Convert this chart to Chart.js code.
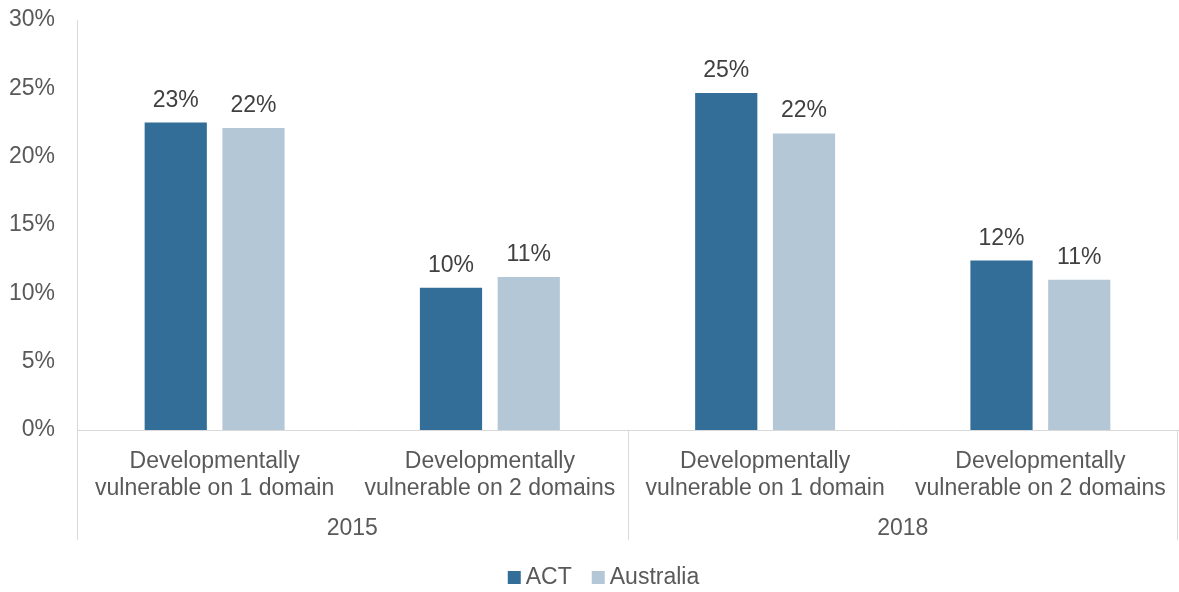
<!DOCTYPE html>
<html>
<head>
<meta charset="utf-8">
<script src="https://cdn.jsdelivr.net/npm/chart.js@4.4.1/dist/chart.umd.min.js"></script>
<style>
  html, body { margin: 0; padding: 0; background: #fff; }
  #wrap { width: 1179px; height: 592px; }
</style>
</head>
<body>
<div id="wrap"><canvas id="chart" width="1179" height="592"></canvas></div>
<script>
const categories = [
  ['Developmentally', 'vulnerable on 1 domain'],
  ['Developmentally', 'vulnerable on 2 domains'],
  ['Developmentally', 'vulnerable on 1 domain'],
  ['Developmentally', 'vulnerable on 2 domains']
];
const years = ['2015', '2018'];
const actValues = [22.5, 10.4, 24.65, 12.4];
const australiaValues = [22.1, 11.2, 21.7, 11.0];
const yTicks = [0, 5, 10, 15, 20, 25, 30];

const FONT = 'Liberation Sans, Arial, sans-serif';
const FSIZE = 23;
const lineColor = '#d9d9d9';
const textColor = '#595959';

// labels above bars
const valueLabels = {
  id: 'valueLabels',
  afterDatasetsDraw(chart) {
    const ctx = chart.ctx;
    ctx.save();
    ctx.font = FSIZE + 'px ' + FONT;
    ctx.fillStyle = '#404040';
    ctx.textAlign = 'center';
    ctx.textBaseline = 'alphabetic';
    chart.data.datasets.forEach((ds, i) => {
      chart.getDatasetMeta(i).data.forEach((bar, j) => {
        ctx.fillText(Math.round(ds.data[j]) + '%', bar.x, bar.y - 16);
      });
    });
    ctx.restore();
  }
};

// year group labels and separators under the x axis
const groupAxis = {
  id: 'groupAxis',
  afterDraw(chart) {
    const ctx = chart.ctx;
    const area = chart.chartArea;
    const x = chart.scales.x;
    const bottom = area.bottom + 110;
    const mid = (x.getPixelForValue(1) + x.getPixelForValue(2)) / 2;
    ctx.save();
    ctx.strokeStyle = lineColor;
    ctx.lineWidth = 1;
    [area.left + 0.5, Math.round(mid) + 0.5, area.right - 0.5].forEach(px => {
      ctx.beginPath();
      ctx.moveTo(px, area.bottom);
      ctx.lineTo(px, bottom);
      ctx.stroke();
    });
    ctx.font = FSIZE + 'px ' + FONT;
    ctx.fillStyle = textColor;
    ctx.textAlign = 'center';
    ctx.textBaseline = 'middle';
    ctx.fillText(years[0], (area.left + mid) / 2, area.bottom + 99);
    ctx.fillText(years[1], (mid + area.right) / 2, area.bottom + 99);
    ctx.restore();
  }
};

// legend row at the bottom, built from the datasets
const bottomLegend = {
  id: 'bottomLegend',
  afterDraw(chart) {
    const ctx = chart.ctx;
    const box = 13, gap = 5, itemGap = 20, y = 578;
    ctx.save();
    ctx.font = FSIZE + 'px ' + FONT;
    ctx.textBaseline = 'middle';
    ctx.textAlign = 'left';
    const items = chart.data.datasets.map(ds => ({
      text: ds.label, color: ds.backgroundColor, w: ctx.measureText(ds.label).width
    }));
    let total = items.reduce((s, it) => s + box + gap + it.w, 0) + itemGap * (items.length - 1);
    let x = chart.width / 2 + 14 - total / 2;
    items.forEach(it => {
      ctx.fillStyle = it.color;
      ctx.fillRect(x, y - 7, box, box);
      ctx.fillStyle = textColor;
      ctx.fillText(it.text, x + box + gap, y);
      x += box + gap + it.w + itemGap;
    });
    ctx.restore();
  }
};

new Chart(document.getElementById('chart'), {
  type: 'bar',
  data: {
    labels: categories,
    datasets: [{
      label: 'ACT',
      data: actValues,
      backgroundColor: '#336e99',
      categoryPercentage: 0.565,
      barPercentage: 0.8
    }, {
      label: 'Australia',
      data: australiaValues,
      backgroundColor: '#b4c7d7',
      categoryPercentage: 0.565,
      barPercentage: 0.8
    }]
  },
  options: {
    responsive: false,
    animation: false,
    layout: { padding: { top: 20, right: 1, left: 0, bottom: 52 } },
    scales: {
      x: {
        grid: { display: false, drawTicks: false },
        border: { color: lineColor },
        ticks: {
          font: { family: FONT, size: FSIZE, lineHeight: 1.17 },
          color: textColor,
          padding: 18,
          maxRotation: 0,
          autoSkip: false
        },
        afterFit(scale) {
          scale.height = 110;
          scale.paddingLeft = 0;
          scale.paddingRight = 0;
        }
      },
      y: {
        min: 0,
        max: 30,
        afterBuildTicks(scale) { scale.ticks = yTicks.map(v => ({ value: v })); },
        grid: { display: false, drawTicks: false },
        border: { color: lineColor },
        ticks: {
          font: { family: FONT, size: FSIZE },
          color: textColor,
          padding: 22,
          callback: v => v + '%'
        },
        afterFit(scale) {
          scale.width = 77;
          scale.paddingTop = 0;
          scale.paddingBottom = 0;
        }
      }
    },
    plugins: {
      legend: { display: false },
      tooltip: { enabled: false }
    }
  },
  plugins: [valueLabels, groupAxis, bottomLegend]
});
</script>
</body>
</html>
